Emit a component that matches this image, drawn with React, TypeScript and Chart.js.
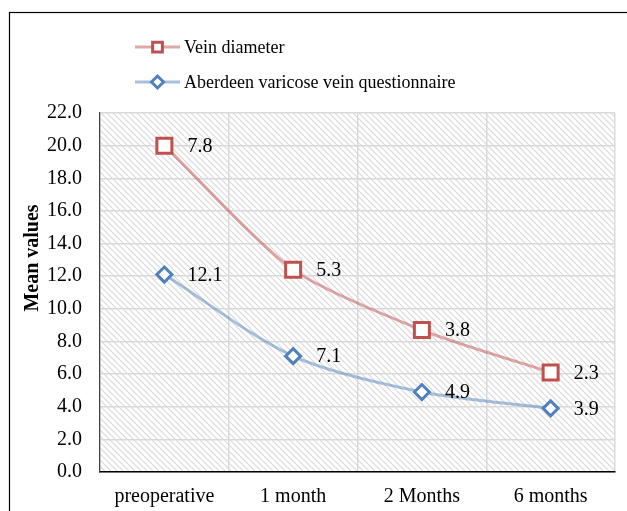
import React, { useEffect, useRef } from "react";
import { Chart, registerables } from "chart.js";

Chart.register(...registerables);

const categories = ["preoperative", "1 month", "2 Months", "6 months"];
const veinValues = [20.0, 12.4, 8.7, 6.1];
const veinLabels = ["7.8", "5.3", "3.8", "2.3"];
const aberdeenValues = [12.1, 7.1, 4.9, 3.9];
const aberdeenLabels = ["12.1", "7.1", "4.9", "3.9"];
const seriesNames = ["Vein diameter", "Aberdeen varicose vein questionnaire"];
const yTitle = "Mean values";

const RED = "#C0504D";
const RED_LINE = "rgba(192,80,77,0.5)";
const BLUE = "#4F81BD";
const BLUE_LINE = "rgba(79,129,189,0.5)";
const FONT = "'Liberation Serif', 'Times New Roman', serif";

function makeHatch(): CanvasPattern | string {
  const c = document.createElement("canvas");
  c.width = 6;
  c.height = 6;
  const g = c.getContext("2d");
  if (!g) return "#fff";
  g.fillStyle = "#ffffff";
  g.fillRect(0, 0, 6, 6);
  g.strokeStyle = "#d9d9d9";
  g.lineWidth = 1.1;
  g.beginPath();
  g.moveTo(-1, -1);
  g.lineTo(7, 7);
  g.moveTo(-4, 2);
  g.lineTo(4, 10);
  g.moveTo(2, -4);
  g.lineTo(10, 4);
  g.stroke();
  const p = g.createPattern(c, "repeat");
  return p || "#fff";
}

function drawMarker(ctx: CanvasRenderingContext2D, kind: string, x: number, y: number, scale = 1) {
  ctx.save();
  ctx.fillStyle = "#fff";
  ctx.lineWidth = 3;
  if (kind === "rect") {
    const h = 7.5 * scale;
    ctx.strokeStyle = RED;
    ctx.beginPath();
    ctx.rect(x - h, y - h, 2 * h, 2 * h);
  } else {
    const h = 7.5 * scale;
    ctx.strokeStyle = BLUE;
    ctx.beginPath();
    ctx.moveTo(x, y - h);
    ctx.lineTo(x + h, y);
    ctx.lineTo(x, y + h);
    ctx.lineTo(x - h, y);
    ctx.closePath();
  }
  ctx.fill();
  ctx.stroke();
  ctx.restore();
}

const customPlugin = {
  id: "custom",
  beforeDraw(chart: any) {
    const { ctx, chartArea } = chart;
    ctx.save();
    ctx.fillStyle = "#fff";
    ctx.fillRect(0, 0, chart.width, chart.height);
    ctx.fillStyle = makeHatch();
    ctx.fillRect(chartArea.left, chartArea.top, chartArea.right - chartArea.left, chartArea.bottom - chartArea.top);
    ctx.strokeStyle = "#000";
    ctx.lineWidth = 1.2;
    ctx.strokeRect(9.5, 12.5, 640, 520);
    ctx.restore();
  },
  afterDatasetsDraw(chart: any) {
    const { ctx } = chart;
    ctx.save();
    const sets = [
      { idx: 0, kind: "rect", labels: veinLabels },
      { idx: 1, kind: "diamond", labels: aberdeenLabels },
    ];
    ctx.font = "20px " + FONT;
    ctx.fillStyle = "#000";
    ctx.textBaseline = "middle";
    ctx.textAlign = "left";
    sets.forEach((s) => {
      const meta = chart.getDatasetMeta(s.idx);
      meta.data.forEach((pt: any, i: number) => {
        drawMarker(ctx, s.kind, pt.x, pt.y);
        ctx.fillStyle = "#000";
        ctx.fillText(s.labels[i], pt.x + 23, pt.y + 1);
      });
    });
    const legendItems = [
      { name: seriesNames[0], kind: "rect", line: RED_LINE, y: 47, s: 0.65 },
      { name: seriesNames[1], kind: "diamond", line: BLUE_LINE, y: 82, s: 0.8 },
    ];
    legendItems.forEach((it) => {
      ctx.strokeStyle = it.line;
      ctx.lineWidth = 3;
      ctx.beginPath();
      ctx.moveTo(135, it.y);
      ctx.lineTo(180, it.y);
      ctx.stroke();
      drawMarker(ctx, it.kind, 157.5, it.y, it.s);
      ctx.fillStyle = "#000";
      ctx.font = "18px " + FONT;
      ctx.fillText(it.name, 184, it.y + 1);
    });
    ctx.translate(33, 258);
    ctx.rotate(-Math.PI / 2);
    ctx.font = "bold 20px " + FONT;
    ctx.textAlign = "center";
    ctx.fillText(yTitle, 0, 0);
    ctx.restore();
  },
};

export default function App() {
  const ref = useRef<HTMLCanvasElement | null>(null);
  useEffect(() => {
    if (!ref.current) return;
    const chart = new Chart(ref.current, {
      type: "line",
      data: {
        labels: categories,
        datasets: [
          {
            label: seriesNames[0],
            data: veinValues,
            borderColor: RED_LINE,
            borderWidth: 3,
            pointRadius: 0,
            tension: 0.25,
            fill: false,
          },
          {
            label: seriesNames[1],
            data: aberdeenValues,
            borderColor: BLUE_LINE,
            borderWidth: 3,
            pointRadius: 0,
            tension: 0.3,
            fill: false,
          },
        ],
      },
      options: {
        animation: false,
        responsive: false,
        maintainAspectRatio: false,
        layout: { padding: { top: 113, right: 12, left: 0, bottom: 0 } },
        plugins: {
          legend: { display: false },
          tooltip: { enabled: false },
        },
        scales: {
          x: {
            offset: true,
            grid: { color: "#d9d9d9", lineWidth: 1.5, offset: true, drawTicks: false },
            border: { color: "#000", width: 1.5 },
            ticks: { color: "#000", font: { family: FONT, size: 20 }, padding: 13, maxRotation: 0 },
            afterFit: (s: any) => {
              s.height = 39;
            },
          },
          y: {
            min: 0,
            max: 22,
            grid: { color: "#d9d9d9", lineWidth: 1.5, drawTicks: false },
            border: { color: "#404040", width: 1.2 },
            ticks: {
              stepSize: 2,
              color: "#000",
              font: { family: FONT, size: 20 },
              padding: 18,
              callback: (v: any) => Number(v).toFixed(1),
            },
            afterFit: (s: any) => {
              s.width = 100;
            },
          },
        },
      },
      plugins: [customPlugin],
    } as any);
    return () => chart.destroy();
  }, []);
  return (
    <div style={{ position: "fixed", left: 0, top: 0, width: 627, height: 511 }}>
      <canvas ref={ref} width={627} height={511} style={{ width: 627, height: 511 }} />
    </div>
  );
}
